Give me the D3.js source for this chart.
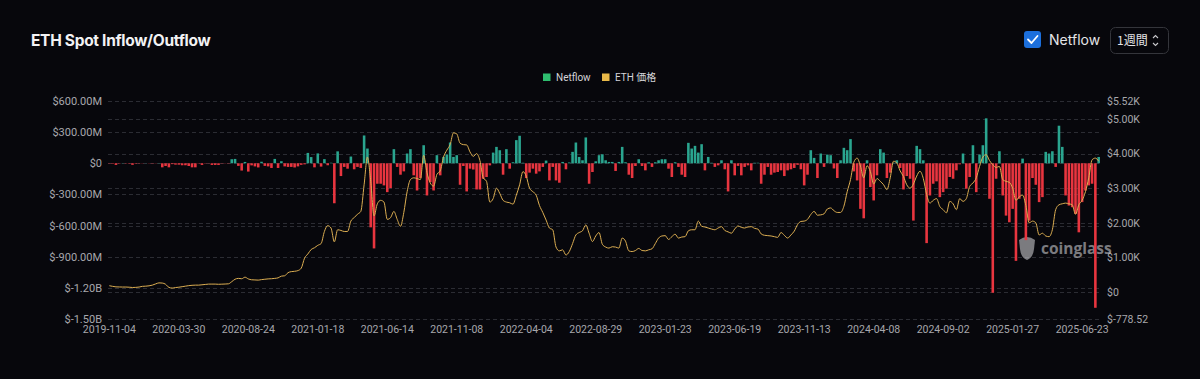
<!DOCTYPE html>
<html><head><meta charset="utf-8">
<script src="https://cdn.jsdelivr.net/npm/d3@7"></script>
<style>
html,body{margin:0;padding:0;background:#07070c;}
svg{display:block;}
</style></head>
<body>
<svg id="c" width="1200" height="379"></svg>
<script>
// ---- data ----
const startDate = "2019-11-04";
const weekCount = 300;
const xTickLabels = ["2019-11-04","2020-03-30","2020-08-24","2021-01-18","2021-06-14","2021-11-08","2022-04-04","2022-08-29","2023-01-23","2023-06-19","2023-11-13","2024-04-08","2024-09-02","2025-01-27","2025-06-23"];
// netflow in millions USD, weekly
const netflow = [
-3,-5,-16,-4,2,-3,-4,-15,-5,-3,
-2,1,-2,-3,-2,2,-39,-26,-39,-8,
-13,-13,-19,-19,-26,-39,-39,-3,-16,-3,
-2,-16,-16,-16,-3,-2,-3,39,42,-25,
-70,13,-80,-20,-30,-40,15,-25,-30,-45,
42,-45,20,-30,-35,-35,-40,-30,-15,-10,
100,60,-39,95,-32,40,-19,5,-385,115,
-123,-35,-52,65,-58,-35,-45,268,142,-617,
-820,-197,-197,-213,-278,-239,136,-35,-110,-78,
94,136,-116,-262,-142,174,-310,-181,-262,78,
-116,61,84,200,61,78,-207,-26,-271,-52,
-60,-252,-252,-149,-132,-20,103,158,126,-110,
136,-52,10,223,265,5,-142,-90,-52,-100,
-78,-35,26,-165,-35,-165,-187,13,-58,8,
110,200,61,29,249,-197,-84,19,78,87,
29,13,13,-74,13,158,10,-110,-142,-26,
39,-26,-68,10,-35,10,29,39,39,-52,
-132,10,-35,-110,-132,197,142,168,103,184,
-68,61,5,-35,-20,29,-58,-271,29,-116,
-25,-116,-35,-20,-68,5,5,-197,-110,-35,
-110,-90,-84,-68,-123,-68,-58,-45,-15,-58,
-213,-110,126,52,-142,94,-35,84,78,-50,
-142,29,149,126,233,-78,-165,-439,-530,29,
-229,-358,-116,136,103,-142,-90,5,29,-45,
-252,-123,-149,-552,168,136,29,-769,-310,-197,
-174,-326,-278,-245,-132,-149,-68,-10,94,-245,
-132,174,-278,84,174,433,-342,-1247,-149,116,
-310,-504,-568,-439,-940,-342,45,-740,-552,-142,
-207,-374,-326,110,94,116,-35,362,158,-310,
-407,-423,-488,-665,-374,-262,-213,-197,-1392,61
];
// ETH price in USD, weekly
const ethPrice = [
183,165,150,147,145,145,140,132,135,145,
165,170,180,200,235,265,260,225,135,115,
130,140,155,170,185,195,200,200,210,220,
230,230,230,225,228,232,238,300,370,395,
385,430,380,355,350,345,360,370,380,385,
395,410,460,470,560,590,600,620,690,980,
1100,1230,1280,1350,1400,1750,1920,1850,1450,1800,
1780,1750,1750,2050,2150,2250,2330,3100,3900,3200,
2200,2550,2650,2600,2100,2150,2330,2100,1900,2300,
2900,3250,3300,3280,3250,3950,3450,3150,3060,3400,
3500,3900,4100,4260,4600,4570,4300,4260,4250,4050,
3920,4000,3800,3300,3200,2600,2700,3000,2850,2650,
2600,2580,2540,2800,3100,3480,3350,3000,2900,2800,
2500,2300,2080,1850,1800,1300,1190,1220,1070,1170,
1400,1650,1720,1770,1940,1700,1460,1620,1720,1380,
1300,1270,1310,1300,1270,1560,1470,1190,1170,1200,
1260,1200,1190,1220,1250,1400,1560,1620,1630,1520,
1600,1670,1560,1590,1600,1770,1800,1800,2050,1900,
1880,1850,1820,1800,1850,1890,1780,1740,1700,1820,
1910,1870,1850,1880,1890,1840,1820,1680,1640,1630,
1620,1600,1580,1720,1640,1560,1650,1760,1950,2040,
2050,2100,2240,2330,2220,2230,2260,2400,2430,2350,
2300,2300,2480,2900,3250,3750,3870,3640,3300,3650,
3480,3120,3280,3200,3100,2960,3300,3780,3730,3500,
3340,3100,3000,3120,3350,3490,3280,2820,2570,2650,
2700,2470,2380,2290,2620,2550,2380,2700,2620,2700,
3050,3150,3300,3630,3900,3970,3800,3680,3600,3630,
3250,3200,3170,3000,2650,2750,2800,2500,2000,2050,
2000,1650,1700,1620,1600,1800,2380,2520,2550,2570,
2550,2520,2250,2520,2650,2900,3300,3820,3870,3780
];
const leftTicks = [600,300,0,-300,-600,-900,-1200,-1500];
const leftTickLabels = ["$600.00M","$300.00M","$0","$-300.00M","$-600.00M","$-900.00M","$-1.20B","$-1.50B"];
const rightTicks = [5520,5000,4000,3000,2000,1000,0,-778.52];
const rightTickLabels = ["$5.52K","$5.00K","$4.00K","$3.00K","$2.00K","$1.00K","$0","$-778.52"];

// ---- build ----
const parse = d3.utcParse("%Y-%m-%d"), fmt = d3.utcFormat("%Y-%m-%d");
const t0 = parse(startDate);
const dates = d3.range(weekCount).map(i => fmt(d3.utcDay.offset(t0, i*7)));
const rows = dates.map((d,i)=>({date:d, flow:netflow[i], price:ethPrice[i]}));

const svg = d3.select("#c");
const W=1200,H=379;
svg.append("rect").attr("width",W).attr("height",H).attr("fill","#07070c");

const plot = {l:108, r:1100, t:101, b:319};
const x = d3.scaleBand().domain(dates).range([plot.l, plot.r]).paddingInner(0.22).paddingOuter(0.01);
const yL = d3.scaleLinear().domain([-1500,600]).range([plot.b, plot.t]);
const yR = d3.scaleLinear().domain([-778.52,5520]).range([plot.b, plot.t]);

const FONT = "Roboto, 'Noto Sans CJK JP', sans-serif";

// gridlines (both axes)
const grid = svg.append("g");
leftTicks.forEach(v=>{
  grid.append("line").attr("x1",plot.l).attr("x2",plot.r).attr("y1",Math.round(yL(v))+0.5).attr("y2",Math.round(yL(v))+0.5)
   .attr("stroke","#2b2c33").attr("stroke-dasharray","4,3").attr("stroke-width",1);
});
rightTicks.forEach(v=>{
  grid.append("line").attr("x1",plot.l).attr("x2",plot.r).attr("y1",Math.round(yR(v))+0.5).attr("y2",Math.round(yR(v))+0.5)
   .attr("stroke","#2b2c33").attr("stroke-dasharray","4,3").attr("stroke-width",1);
});

// left axis
const axL = d3.axisLeft(yL).tickValues(leftTicks).tickFormat((d,i)=>leftTickLabels[i]).tickSize(0).tickPadding(6);
const gL = svg.append("g").attr("transform",`translate(${plot.l},0)`).call(axL);
gL.select(".domain").remove();
gL.selectAll("text").attr("fill","#a7a8ad").style("font-family",FONT).style("font-size","11px");

// right axis
const axR = d3.axisRight(yR).tickValues(rightTicks).tickFormat((d,i)=>rightTickLabels[i]).tickSize(0).tickPadding(7);
const gR = svg.append("g").attr("transform",`translate(${plot.r},0)`).call(axR);
gR.select(".domain").remove();
gR.selectAll("text").attr("fill","#a7a8ad").style("font-family",FONT).style("font-size","10.5px");

// x axis
const axX = d3.axisBottom(x).tickValues(xTickLabels).tickSize(0).tickPadding(5);
const gX = svg.append("g").attr("transform",`translate(0,${plot.b+2})`).call(axX);
gX.select(".domain").remove();
gX.selectAll("text").attr("fill","#a7a8ad").style("font-family",FONT).style("font-size","10.5px");

// watermark
const wm = svg.append("g").attr("opacity",0.6);
wm.append("path").attr("d","M1019,240 q8,-6 16,0 l-1,9 q-1,9 -7,11 q-6,-2 -7,-11 z").attr("fill","#c8c8cc");
wm.append("text").attr("x",1041).attr("y",254).text("coinglass")
  .attr("fill","#c8c8cc").style("font-family","'Open Sans', Roboto, sans-serif").style("font-weight","700").style("font-size","15.5px");

// bars
svg.append("g").selectAll("rect").data(rows).join("rect")
  .attr("x", d=>x(d.date))
  .attr("width", x.bandwidth())
  .attr("y", d=> d.flow>=0 ? yL(d.flow) : yL(0))
  .attr("height", d=> Math.abs(yL(d.flow)-yL(0)))
  .attr("fill", d=> d.flow>=0 ? "#2aa58f" : "#e8353f");

// price line
const line = d3.line().x(d=>x(d.date)+x.bandwidth()/2).y(d=>yR(d.price)).curve(d3.curveMonotoneX);
svg.append("path").datum(rows).attr("d",line).attr("fill","none").attr("stroke","#dcae52").attr("stroke-width",1);

// legend
const lg = svg.append("g").style("font-family",FONT).style("font-size","10px");
lg.append("rect").attr("x",543).attr("y",73.5).attr("width",7.5).attr("height",7.5).attr("fill","#2ebd6f");
lg.append("text").attr("x",556).attr("y",81).text("Netflow").attr("fill","#d4d4d8");
lg.append("rect").attr("x",602).attr("y",73.5).attr("width",7.5).attr("height",7.5).attr("fill","#e9b949");
lg.append("text").attr("x",615).attr("y",81).text("ETH 価格").attr("fill","#d4d4d8");

// header
svg.append("text").attr("x",31).attr("y",46).text("ETH Spot Inflow/Outflow")
  .attr("fill","#f2f2f4").style("font-family","Inter, Roboto, sans-serif").style("font-weight","700").style("font-size","15.5px").style("letter-spacing","-0.3px");
svg.append("rect").attr("x",1024).attr("y",31).attr("width",17).attr("height",17).attr("rx",3).attr("fill","#1c6fdc");
svg.append("path").attr("d","M1028,39.5 l3.5,3.5 l6,-7").attr("fill","none").attr("stroke","#fff").attr("stroke-width",1.8).attr("stroke-linecap","round").attr("stroke-linejoin","round");
svg.append("text").attr("x",1049).attr("y",45).text("Netflow").attr("fill","#e4e4e7").style("font-family","Inter, Roboto, sans-serif").style("font-size","14px");
svg.append("rect").attr("x",1110.5).attr("y",27.5).attr("width",58).attr("height",26).attr("rx",5).attr("fill","none").attr("stroke","#34353b");
svg.append("text").attr("x",1117).attr("y",45).text("1週間").attr("fill","#e4e4e7").style("font-family","'Noto Sans CJK JP', sans-serif").style("font-size","12px");
svg.append("path").attr("d","M1153,38 l2.5,-2.5 l2.5,2.5 M1153,43 l2.5,2.5 l2.5,-2.5").attr("fill","none").attr("stroke","#c8c8cc").attr("stroke-width",1.1);
</script>
</body></html>
